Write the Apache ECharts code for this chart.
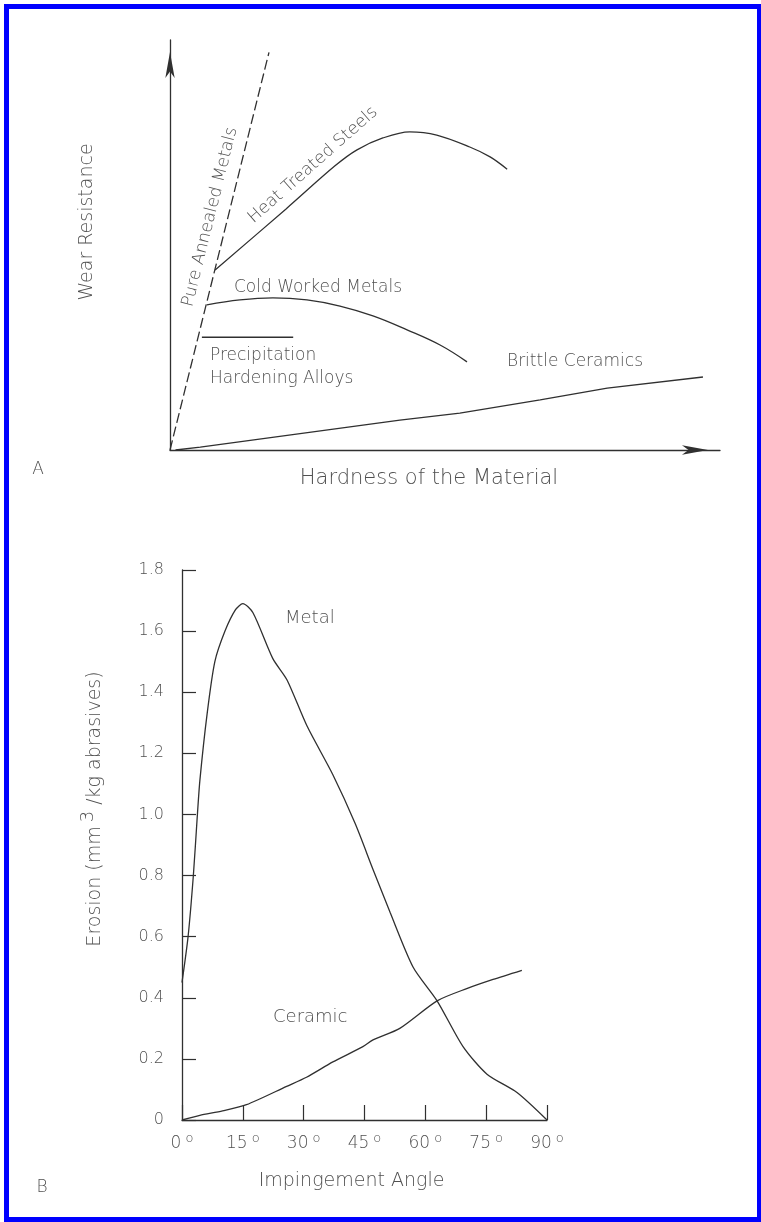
<!DOCTYPE html>
<html><head><meta charset="utf-8">
<script src="https://cdn.jsdelivr.net/npm/echarts@6/dist/echarts.min.js"></script>
<style>html,body{margin:0;padding:0;background:#fff}#c{width:761px;height:1222px}</style>
</head><body><div id="c"></div>
<script>
// ---------- Panel A (schematic, arbitrary units 0-100) ----------
const pureAnnealed = [[0, 0], [18, 97]];
const heatTreated = [[8.2, 43.9], [21.1, 58.8], [30.0, 69.3], [34.0, 73.2], [38.7, 76.1], [43.6, 77.6], [48.5, 76.8], [54.5, 73.9], [58.2, 71.5], [61.3, 68.5]];
const coldWorked = [[6.7, 35.4], [12.7, 36.6], [18.7, 37.1], [24.9, 36.6], [30.9, 35.1], [36.9, 32.7], [43.1, 29.3], [49.1, 25.6], [54.0, 21.5]];
const precipitation = [[5.8, 27.5], [22.4, 27.5]];
const brittleCeramics = [[1, 0], [5.5, 0.7], [41.8, 7.3], [52.7, 9.0], [67.3, 12.2], [79.5, 15.1], [96.9, 17.8]];

// ---------- Panel B ----------
const angleTicks = [0, 15, 30, 45, 60, 75, 90];
const erosionTicks = [0, 0.2, 0.4, 0.6, 0.8, 1.0, 1.2, 1.4, 1.6, 1.8];
const metal = [[0, 0.45], [1.5, 0.60], [2.8, 0.80], [3.7, 0.98], [4.4, 1.11], [6.2, 1.33], [8.1, 1.50], [10.6, 1.60], [13.2, 1.67], [15.0, 1.69], [17.5, 1.66], [22.4, 1.51], [25.9, 1.44], [30.8, 1.29], [37.2, 1.13], [42.7, 0.97], [47.1, 0.82], [51.3, 0.68], [57.0, 0.50], [62.9, 0.39], [69.3, 0.24], [75.2, 0.15], [82.6, 0.09], [90, 0.0]];
const ceramic = [[0, 0], [4.4, 0.015], [10, 0.03], [15.9, 0.05], [25.8, 0.11], [30.7, 0.14], [37.2, 0.19], [44.6, 0.24], [47.1, 0.262], [53.7, 0.30], [62.9, 0.39], [70.2, 0.43], [76.7, 0.46], [83.8, 0.49]];

const FONT = 'DejaVu Sans';
const TXT = '#505050';
const LINE = '#303030';

const chart = echarts.init(document.getElementById('c'), null, {renderer: 'canvas'});

function txt(text, x, y, opt) {
  opt = opt || {};
  return {
    type: 'text', x: x, y: y, rotation: (opt.rot || 0) * Math.PI / 180, z: 10,
    style: {
      text: text, fill: TXT, font: (opt.weight || 300) + ' ' + (opt.size || 17) + 'px "' + FONT + '"',
      textAlign: opt.align || 'center', textVerticalAlign: 'middle'
    }
  };
}

const lineStyleBase = {color: LINE, width: 1.3};

chart.setOption({
  backgroundColor: '#fff',
  animation: false,
  grid: [
    {left: 170, top: 40, width: 550, height: 410},
    {left: 182, top: 570, width: 365, height: 550}
  ],
  xAxis: [
    {
      gridIndex: 0, type: 'value', min: 0, max: 100,
      axisLine: {show: true, lineStyle: {color: LINE, width: 1.3}, symbol: ['none', 'arrow'], symbolSize: [7, 26], symbolOffset: [0, -12]},
      axisTick: {show: false}, axisLabel: {show: false}, splitLine: {show: false},
      name: 'Hardness of the Material', nameLocation: 'middle', nameGap: 18,
      nameTextStyle: {fontFamily: FONT, fontSize: 21, fontWeight: 300, color: TXT, padding: [0, 32, 0, 0], verticalAlign: 'top'}
    },
    {
      gridIndex: 1, type: 'value', min: 0, max: 90, interval: 15,
      axisLine: {show: true, lineStyle: {color: LINE, width: 1.3}},
      axisTick: {show: true, inside: true, length: 15, lineStyle: {color: LINE, width: 1.2}},
      splitLine: {show: false},
      axisLabel: {
        margin: 12, color: TXT, fontFamily: FONT, fontSize: 17, fontWeight: 300,
        formatter: v => v + '{d|o}',
        rich: {d: {fontSize: 13, fontFamily: FONT, fontWeight: 300, color: TXT, padding: [0, 0, 10, 4]}}
      },
      name: 'Impingement Angle', nameLocation: 'middle', nameGap: 52,
      nameTextStyle: {fontFamily: FONT, fontSize: 19, fontWeight: 300, color: TXT, padding: [0, 26, 0, 0], verticalAlign: 'top'}
    }
  ],
  yAxis: [
    {
      gridIndex: 0, type: 'value', min: 0, max: 100,
      axisLine: {show: true, lineStyle: {color: LINE, width: 1.3}, symbol: ['none', 'arrow'], symbolSize: [7, 26], symbolOffset: [0, -12]},
      axisTick: {show: false}, axisLabel: {show: false}, splitLine: {show: false},
      name: 'Wear Resistance', nameLocation: 'middle', nameGap: 73, nameRotate: 90,
      nameTextStyle: {fontFamily: FONT, fontSize: 19, fontWeight: 300, color: TXT, padding: [0, 0, 0, 46]}
    },
    {
      gridIndex: 1, type: 'value', min: 0, max: 1.8, interval: 0.2,
      axisLine: {show: true, lineStyle: {color: LINE, width: 1.3}},
      axisTick: {show: true, inside: true, length: 14, lineStyle: {color: LINE, width: 1.2}},
      splitLine: {show: false},
      axisLabel: {
        margin: 18, color: TXT, fontFamily: FONT, fontSize: 16, fontWeight: 300,
        formatter: v => (Math.abs(v) < 1e-9 ? '0' : v.toFixed(1))
      },
      name: 'Erosion (mm{s|3} /kg abrasives)', nameLocation: 'middle', nameGap: 71, nameRotate: 90,
      nameTextStyle: {
        fontFamily: FONT, fontSize: 19, fontWeight: 300, color: TXT, padding: [0, 0, 0, 72],
        rich: {s: {fontFamily: FONT, fontSize: 18, fontWeight: 300, color: TXT, padding: [0, 0, 14, 4]}}
      }
    }
  ],
  series: [
    {name: 'Pure Annealed Metals', type: 'line', xAxisIndex: 0, yAxisIndex: 0, data: pureAnnealed, showSymbol: false,
      lineStyle: {color: LINE, width: 1.3, type: [10, 4]}},
    {name: 'Heat Treated Steels', type: 'line', xAxisIndex: 0, yAxisIndex: 0, data: heatTreated, showSymbol: false, smooth: 0.35,
      lineStyle: lineStyleBase},
    {name: 'Cold Worked Metals', type: 'line', xAxisIndex: 0, yAxisIndex: 0, data: coldWorked, showSymbol: false, smooth: 0.4,
      lineStyle: lineStyleBase},
    {name: 'Precipitation Hardening Alloys', type: 'line', xAxisIndex: 0, yAxisIndex: 0, data: precipitation, showSymbol: false,
      lineStyle: lineStyleBase},
    {name: 'Brittle Ceramics', type: 'line', xAxisIndex: 0, yAxisIndex: 0, data: brittleCeramics, showSymbol: false,
      lineStyle: lineStyleBase},
    {name: 'Metal', type: 'line', xAxisIndex: 1, yAxisIndex: 1, data: metal, showSymbol: false, smooth: 0.25,
      lineStyle: lineStyleBase},
    {name: 'Ceramic', type: 'line', xAxisIndex: 1, yAxisIndex: 1, data: ceramic, showSymbol: false, smooth: 0.25,
      lineStyle: lineStyleBase}
  ],
  graphic: [
    {type: 'rect', shape: {x: 6.5, y: 6.5, width: 753, height: 1213}, style: {fill: 'none', stroke: '#0000ff', lineWidth: 5}, z: 100},
    txt('Pure Annealed Metals', 210, 217, {rot: 76}),
    txt('Heat Treated Steels', 313, 165, {rot: 41.5}),
    txt('Cold Worked Metals', 318, 288),
    txt('Precipitation', 210, 356, {align: 'left'}),
    txt('Hardening Alloys', 210, 379, {align: 'left'}),
    txt('Brittle Ceramics', 507, 362, {align: 'left'}),
    txt('A', 38, 470),
    txt('Metal', 285, 618, {align: 'left', size: 18}),
    txt('Ceramic', 273, 1017, {align: 'left', size: 18}),
    txt('B', 42, 1188)
  ]
});
</script>
</body></html>
